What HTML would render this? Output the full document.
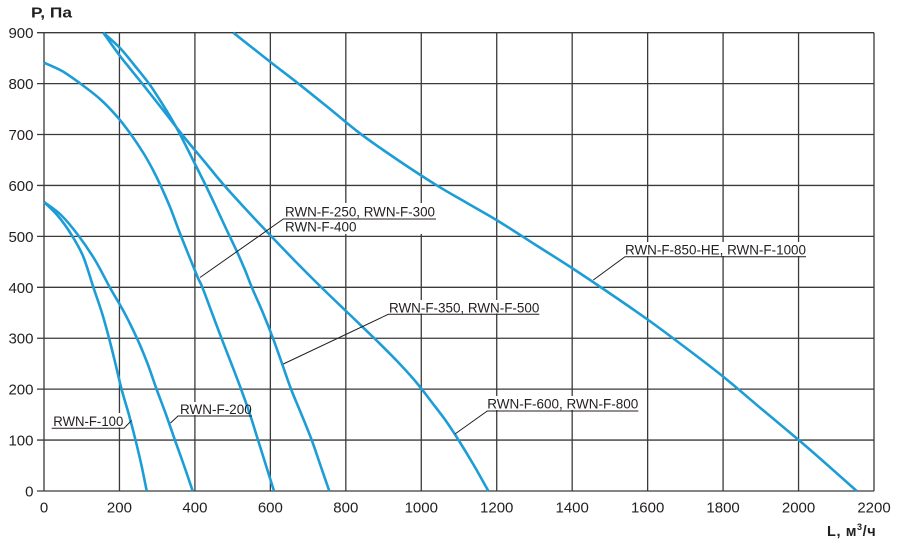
<!DOCTYPE html>
<html>
<head>
<meta charset="utf-8">
<style>
  html,body{margin:0;padding:0;background:#fff;}
  svg{display:block;}
  text{font-family:"Liberation Sans",Arial,"Noto Sans CJK SC",sans-serif;fill:#231f20;}
</style>
</head>
<body>
<svg id="chart" width="900" height="551" viewBox="0 0 900 551" xmlns="http://www.w3.org/2000/svg">
  <rect width="900" height="551" fill="#fff"/>
  <!-- grid -->
  <g stroke="#3a3a3a" stroke-width="1.3" fill="none">
    <line x1="37" y1="491" x2="874" y2="491"/>
    <line x1="37" y1="440.07" x2="874" y2="440.07"/>
    <line x1="37" y1="389.15" x2="874" y2="389.15"/>
    <line x1="37" y1="338.22" x2="874" y2="338.22"/>
    <line x1="37" y1="287.3" x2="874" y2="287.3"/>
    <line x1="37" y1="236.37" x2="874" y2="236.37"/>
    <line x1="37" y1="185.44" x2="874" y2="185.44"/>
    <line x1="37" y1="134.52" x2="874" y2="134.52"/>
    <line x1="37" y1="83.59" x2="874" y2="83.59"/>
    <line x1="37" y1="32.67" x2="874" y2="32.67"/>
    <line x1="44" y1="32.67" x2="44" y2="491"/>
    <line x1="119.45" y1="32.67" x2="119.45" y2="491"/>
    <line x1="194.91" y1="32.67" x2="194.91" y2="491"/>
    <line x1="270.36" y1="32.67" x2="270.36" y2="491"/>
    <line x1="345.82" y1="32.67" x2="345.82" y2="491"/>
    <line x1="421.27" y1="32.67" x2="421.27" y2="491"/>
    <line x1="496.73" y1="32.67" x2="496.73" y2="491"/>
    <line x1="572.18" y1="32.67" x2="572.18" y2="491"/>
    <line x1="647.64" y1="32.67" x2="647.64" y2="491"/>
    <line x1="723.09" y1="32.67" x2="723.09" y2="491"/>
    <line x1="798.55" y1="32.67" x2="798.55" y2="491"/>
    <line x1="874" y1="32.67" x2="874" y2="491"/>
  </g>

  <!-- label backgrounds -->
  <g fill="#fff">
    <rect x="51" y="413" width="73" height="14.5"/>
    <rect x="178" y="402" width="74" height="13"/>
    <rect x="283" y="203" width="153" height="31"/>
    <rect x="388" y="300" width="152" height="13.5"/>
    <rect x="487" y="396" width="152" height="14"/>
    <rect x="624" y="242" width="183" height="14"/>
  </g>

  <!-- curves -->
  <g id="curves" stroke="#1d9dd6" stroke-width="2.6" fill="none" stroke-linejoin="round" stroke-linecap="butt">
    <!-- RWN-F-100 -->
    <polyline class="c" points="44,202 58,216 71,234 83,256 93.5,287.7 102,313 109,338 115.5,364 121.5,389 129,415 135.5,440 141.5,465.5 146.7,491"/>
    <!-- RWN-F-200 -->
    <polyline class="c" points="44,202 61,215 78,235 95,260 110,287.7 124,312 137,338.3 147.5,363.5 156.5,389 166,414.5 175,440.3 184,465.5 192.7,491"/>
    <!-- RWN-F-250/300/400 -->
    <polyline class="c" points="44,62.7 62,71 80,83.3 100,99 117,116.5 131,134.5 144,154 153,170 160.5,185.3 170,207 178.3,229 185,246 192,263.3 198,278 202.5,287.7 212,313 221.5,338.3 231.5,364 241,389 250,414.5 258,440 266,465.5 274,491"/>
    <!-- RWN-F-350/500 -->
    <polyline class="c" points="103.3,32.7 120,48 135,66 150,85 163,105 175,125 186,146 196,166 206,186 216,207 226.7,230 236.7,251 245,270 252,287.7 263,313 273,338.3 282,363.5 291,389 301.5,414.5 311.7,440 320.5,465.5 329.3,491"/>
    <!-- RWN-F-600/800 -->
    <polyline class="c" points="103.3,32.7 120,56 142,83.3 163,110 184,137 204,161 223,184 247,210.5 271,236 296,262 321,287 347,312 373,337 397,361 416,382 432,402.5 446,421 458.5,440 474,465.5 488.3,491"/>
    <!-- RWN-F-850-HE/1000 -->
    <polyline class="c" points="233.3,32.7 252,47.5 271,62.5 298,83.3 330,109 361.7,134.7 400,161.5 436.7,185.3 467,203 497.3,220.5 535,244.5 572.7,268.5 610,293.5 648.3,320 686,348 723.3,376.7 761,408.5 799,440.3 828,465.5 856.7,491"/>
  </g>

  <!-- leaders and underlines -->
  <g stroke="#231f20" stroke-width="1" fill="none">
    <polyline points="51.7,428.3 124,428.3 131.5,420.5"/>
    <polyline points="252,416 178,416 170.5,423"/>
    <polyline points="436,219 283.3,219 200,277.5"/>
    <polyline points="539.3,314.3 388.3,314.3 283.3,364"/>
    <polyline points="638.3,411 487.3,411 455,434"/>
    <polyline points="806,256.7 625,256.7 593.3,280"/>
  </g>

  <!-- series labels -->
  <g font-size="13.4">
    <text x="53.3" y="426" textLength="70" lengthAdjust="spacingAndGlyphs">RWN-F-100</text>
    <text x="180" y="413.8" textLength="71.7" lengthAdjust="spacingAndGlyphs">RWN-F-200</text>
    <text x="285" y="216.5" textLength="150" lengthAdjust="spacingAndGlyphs">RWN-F-250, RWN-F-300</text>
    <text x="285" y="231.5" textLength="71.5" lengthAdjust="spacingAndGlyphs">RWN-F-400</text>
    <text x="389" y="312.3" textLength="150.3" lengthAdjust="spacingAndGlyphs">RWN-F-350, RWN-F-500</text>
    <text x="487.3" y="408.7" textLength="151" lengthAdjust="spacingAndGlyphs">RWN-F-600, RWN-F-800</text>
    <text x="625" y="254.6" textLength="181" lengthAdjust="spacingAndGlyphs">RWN-F-850-HE, RWN-F-1000</text>
  </g>

  <!-- y tick labels -->
  <g font-size="15" text-anchor="end">
    <text x="33.5" y="496.5">0</text>
    <text x="33.5" y="445.6">100</text>
    <text x="33.5" y="394.7">200</text>
    <text x="33.5" y="343.7">300</text>
    <text x="33.5" y="292.8">400</text>
    <text x="33.5" y="241.9">500</text>
    <text x="33.5" y="190.9">600</text>
    <text x="33.5" y="140">700</text>
    <text x="33.5" y="89.1">800</text>
    <text x="33.5" y="38.2">900</text>
  </g>

  <!-- x tick labels -->
  <g font-size="15" text-anchor="middle">
    <text x="44" y="512.7">0</text>
    <text x="119.45" y="512.7">200</text>
    <text x="194.91" y="512.7">400</text>
    <text x="270.36" y="512.7">600</text>
    <text x="345.82" y="512.7">800</text>
    <text x="421.27" y="512.7">1000</text>
    <text x="496.73" y="512.7">1200</text>
    <text x="572.18" y="512.7">1400</text>
    <text x="647.64" y="512.7">1600</text>
    <text x="723.09" y="512.7">1800</text>
    <text x="798.55" y="512.7">2000</text>
    <text x="874" y="512.7">2200</text>
  </g>

  <!-- axis titles -->
  <text x="31" y="17.5" font-size="14.5" font-weight="bold" textLength="41" lengthAdjust="spacingAndGlyphs">P, Па</text>
  <text x="827" y="536" font-size="14.5" font-weight="bold" letter-spacing="0.6">L, м<tspan font-size="9" dy="-6">3</tspan><tspan dy="6">/ч</tspan></text>
</svg>
<script>
(function(){
  var NS = "http://www.w3.org/2000/svg";
  var polys = document.querySelectorAll("#curves polyline.c");
  for (var k = 0; k < polys.length; k++) {
    var pl = polys[k];
    var raw = pl.getAttribute("points").trim().split(/\s+/);
    var p = raw.map(function(s){ var a = s.split(","); return [parseFloat(a[0]), parseFloat(a[1])]; });
    var n = p.length;
    var d = "M" + p[0][0] + "," + p[0][1];
    for (var i = 0; i < n - 1; i++) {
      var p0 = p[i > 0 ? i - 1 : 0], p1 = p[i], p2 = p[i + 1], p3 = p[i + 2 < n ? i + 2 : n - 1];
      var c1x = p1[0] + (p2[0] - p0[0]) / 6, c1y = p1[1] + (p2[1] - p0[1]) / 6;
      var c2x = p2[0] - (p3[0] - p1[0]) / 6, c2y = p2[1] - (p3[1] - p1[1]) / 6;
      d += " C" + c1x.toFixed(2) + "," + c1y.toFixed(2) + " " + c2x.toFixed(2) + "," + c2y.toFixed(2) + " " + p2[0] + "," + p2[1];
    }
    var path = document.createElementNS(NS, "path");
    path.setAttribute("d", d);
    pl.parentNode.replaceChild(path, pl);
  }
})();
</script>
</body>
</html>
